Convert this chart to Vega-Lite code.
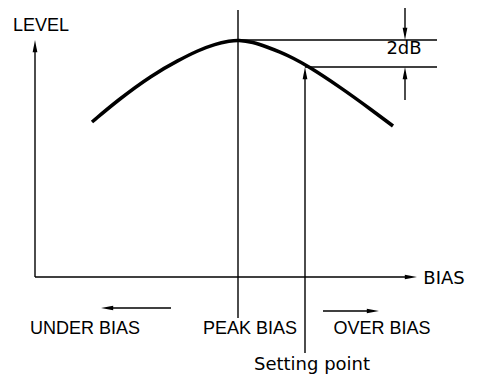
{
  "$schema": "https://vega.github.io/schema/vega-lite/v6.json",
  "width": 490,
  "height": 380,
  "padding": 0,
  "autosize": {"type": "none"},
  "background": "white",
  "config": {"view": {"stroke": null}},
  "datasets": {
    "lines": [
      {"part": "level axis", "x": 0, "y": 0, "x2": 0, "y2": 230},
      {"part": "bias axis", "x": 0, "y": 0, "x2": 375, "y2": 0},
      {"part": "peak", "x": 203, "y": 267, "x2": 203, "y2": -41},
      {"part": "setting", "x": 270, "y": 205, "x2": 270, "y2": -76},
      {"part": "peak level", "x": 203, "y": 237, "x2": 402, "y2": 237},
      {"part": "setting level", "x": 270, "y": 210, "x2": 402, "y2": 210},
      {"part": "dB top", "x": 370, "y": 269, "x2": 370, "y2": 242},
      {"part": "dB bottom", "x": 370, "y": 177, "x2": 370, "y2": 205},
      {"part": "under", "x": 72, "y": -31, "x2": 136, "y2": -31},
      {"part": "over", "x": 288, "y": -34, "x2": 339, "y2": -34}
    ],
    "curve": [
      {"bias": 57, "level": 155},
      {"bias": 83, "level": 177},
      {"bias": 117, "level": 202},
      {"bias": 144, "level": 217},
      {"bias": 163, "level": 226.5},
      {"bias": 180, "level": 233},
      {"bias": 195, "level": 236},
      {"bias": 203, "level": 237},
      {"bias": 218, "level": 235},
      {"bias": 232, "level": 230},
      {"bias": 245, "level": 225},
      {"bias": 258, "level": 219},
      {"bias": 272, "level": 211.5},
      {"bias": 305, "level": 190},
      {"bias": 338, "level": 166},
      {"bias": 358, "level": 151}
    ],
    "heads": [
      {"x": 0, "y": 237, "dir": "up"},
      {"x": 382, "y": 0, "dir": "right"},
      {"x": 270, "y": 210, "dir": "up"},
      {"x": 370, "y": 237, "dir": "down"},
      {"x": 370, "y": 210, "dir": "up"},
      {"x": 66, "y": -31, "dir": "left"},
      {"x": 344, "y": -34, "dir": "right"}
    ],
    "labels": [
      {"label": "LEVEL", "x": 6, "y": 251, "kind": "region"},
      {"label": "UNDER BIAS", "x": 50, "y": -52, "kind": "region"},
      {"label": "PEAK BIAS", "x": 215, "y": -52, "kind": "region"},
      {"label": "OVER BIAS", "x": 347, "y": -52, "kind": "region"},
      {"label": "2dB", "x": 369, "y": 228, "kind": "marker"},
      {"label": "BIAS", "x": 409, "y": -2, "kind": "marker"},
      {"label": "Setting point", "x": 277, "y": -88, "kind": "marker"}
    ]
  },
  "layer": [
    {
      "data": {"name": "lines"},
      "mark": {"type": "rule", "color": "black", "strokeWidth": 1.4},
      "encoding": {
        "x": {"field": "x", "type": "quantitative", "scale": {"domain": [-35, 455]}, "axis": null},
        "y": {"field": "y", "type": "quantitative", "scale": {"domain": [-103, 277]}, "axis": null},
        "x2": {"field": "x2"},
        "y2": {"field": "y2"}
      }
    },
    {
      "data": {"name": "curve"},
      "mark": {"type": "line", "color": "black", "strokeWidth": 3.5, "interpolate": "basis", "strokeCap": "butt"},
      "encoding": {
        "x": {"field": "bias", "type": "quantitative", "scale": {"domain": [-35, 455]}, "axis": null},
        "y": {"field": "level", "type": "quantitative", "scale": {"domain": [-103, 277]}, "axis": null}
      }
    },
    {
      "data": {"name": "heads"},
      "mark": {"type": "point", "filled": true, "color": "black", "opacity": 1, "size": 22, "strokeWidth": 0},
      "encoding": {
        "x": {"field": "x", "type": "quantitative", "scale": {"domain": [-35, 455]}, "axis": null},
        "y": {"field": "y", "type": "quantitative", "scale": {"domain": [-103, 277]}, "axis": null},
        "shape": {
          "field": "dir",
          "type": "nominal",
          "legend": null,
          "scale": {
            "domain": ["up", "down", "left", "right"],
            "range": ["M0,0L1,5.2L-1,5.2Z", "M0,0L1,-5.2L-1,-5.2Z", "M0,0L5.2,1L5.2,-1Z", "M0,0L-5.2,1L-5.2,-1Z"]
          }
        }
      }
    },
    {
      "data": {"name": "labels"},
      "transform": [{"filter": "datum.kind == 'region'"}],
      "mark": {"type": "text", "font": "Liberation Sans", "fontSize": 18, "color": "black", "align": "center", "baseline": "middle"},
      "encoding": {
        "x": {"field": "x", "type": "quantitative", "scale": {"domain": [-35, 455]}, "axis": null},
        "y": {"field": "y", "type": "quantitative", "scale": {"domain": [-103, 277]}, "axis": null},
        "text": {"field": "label"}
      }
    },
    {
      "data": {"name": "labels"},
      "transform": [{"filter": "datum.kind == 'marker'"}],
      "mark": {"type": "text", "font": "DejaVu Sans", "fontSize": 18, "color": "black", "align": "center", "baseline": "middle"},
      "encoding": {
        "x": {"field": "x", "type": "quantitative", "scale": {"domain": [-35, 455]}, "axis": null},
        "y": {"field": "y", "type": "quantitative", "scale": {"domain": [-103, 277]}, "axis": null},
        "text": {"field": "label"}
      }
    }
  ]
}
